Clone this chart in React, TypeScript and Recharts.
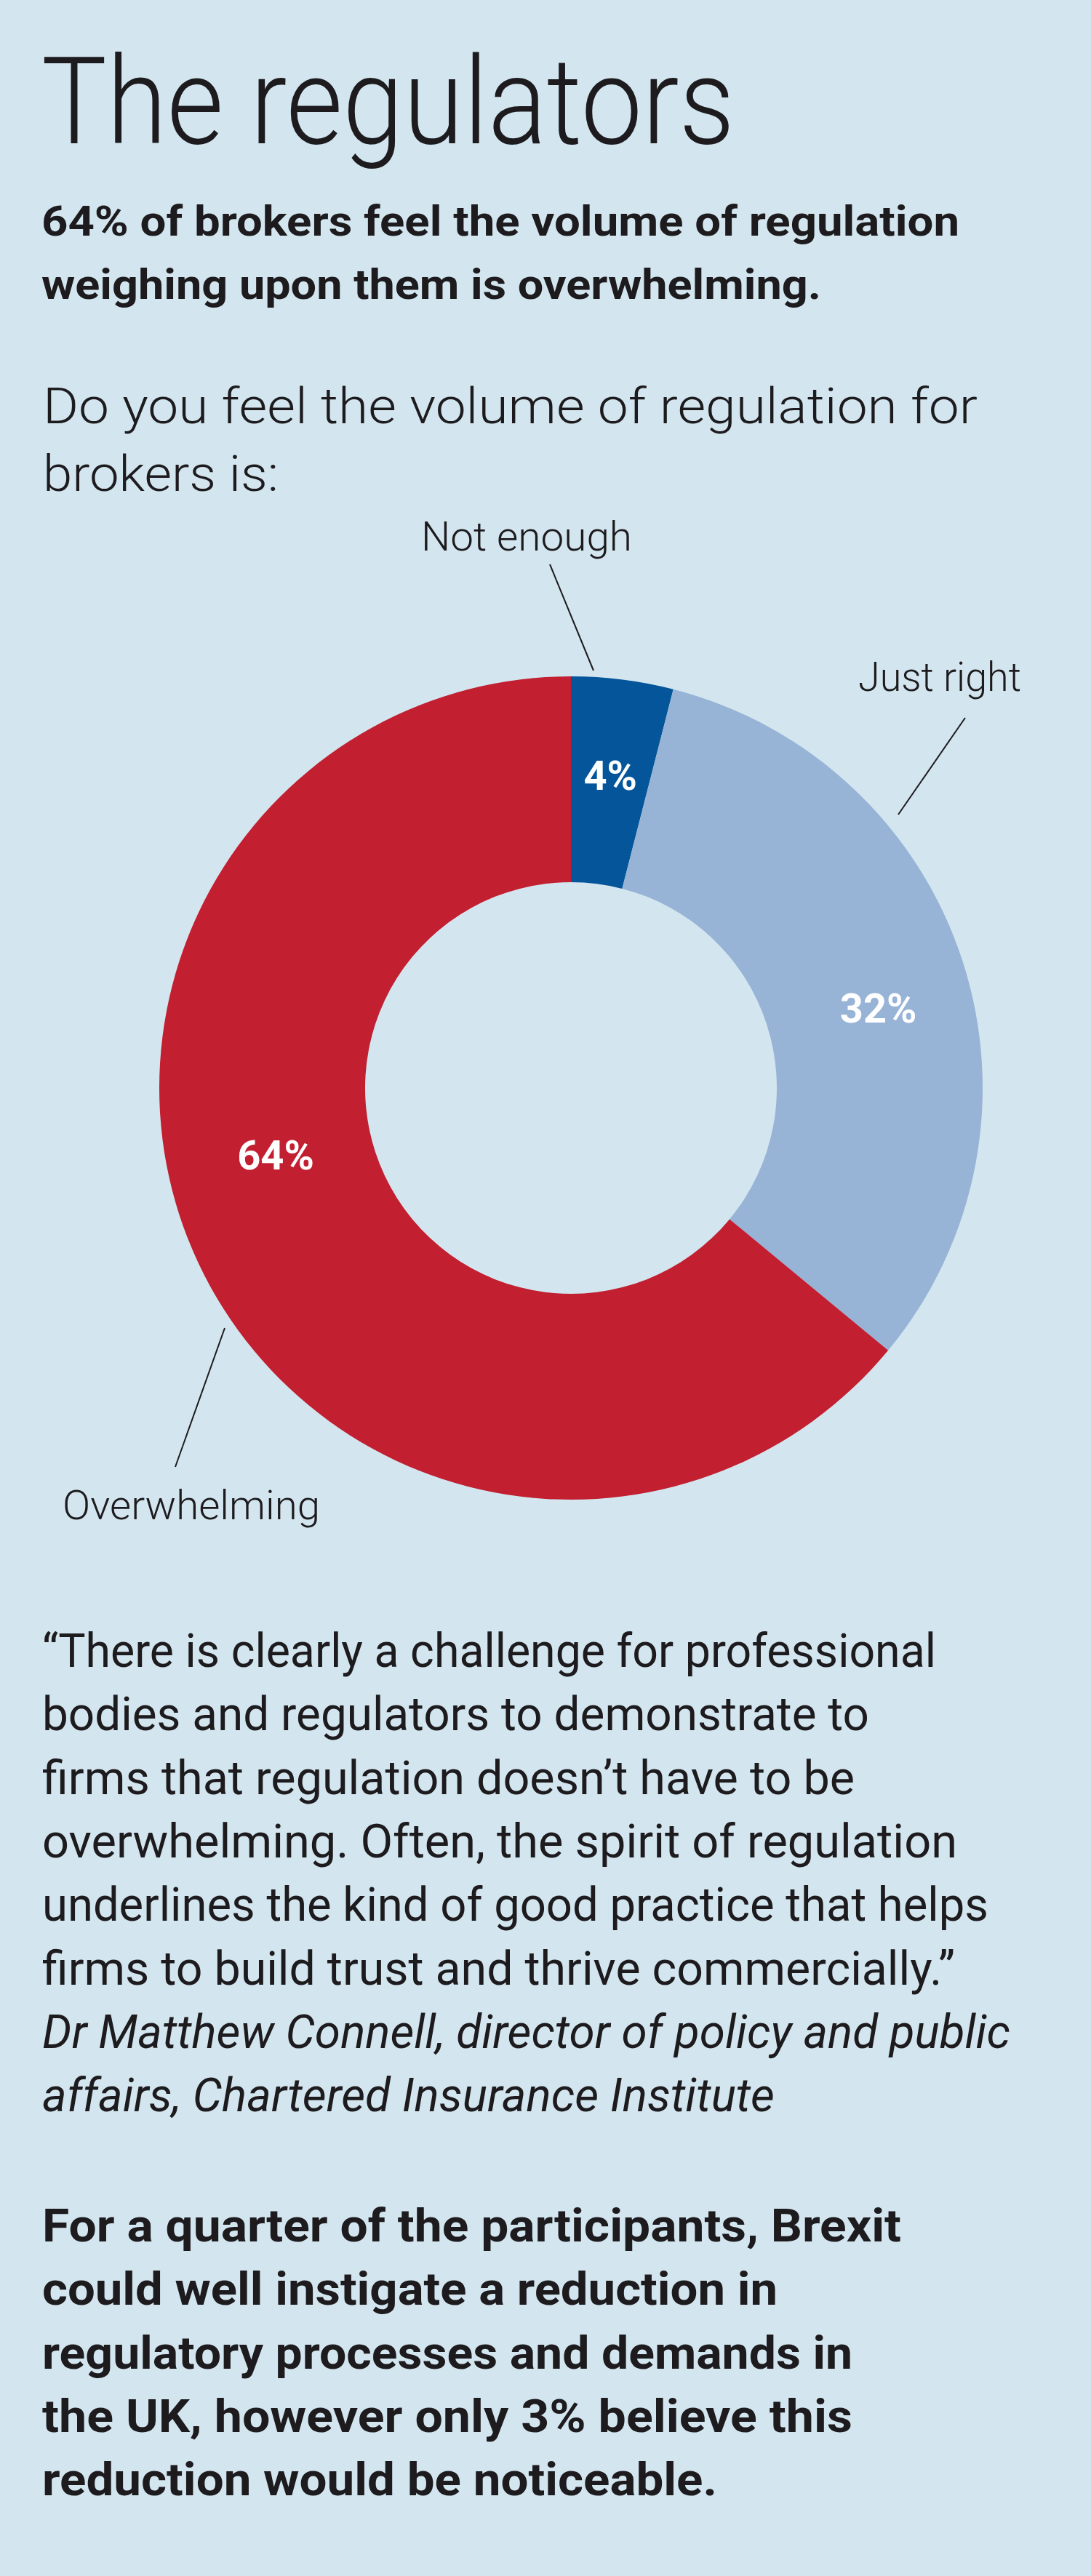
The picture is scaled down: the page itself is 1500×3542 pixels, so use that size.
import { Cell, Pie, PieChart } from "recharts";

const BG = "#d3e6ef";
const INK = "#1d1b1e";

// survey answers, clockwise from 12 o'clock
const CATEGORIES = ["Not enough", "Just right", "Overwhelming"];
const SHARES = [4, 32, 64];
const COLORS = ["#04559a", "#97b3d6", "#c21f30"];

const TITLE = "The regulators";
const SUBTITLE = ["64% of brokers feel the volume of regulation", "weighing upon them is overwhelming."];
const QUESTION = ["Do you feel the volume of regulation for", "brokers is:"];
const QUOTE = [
  "\u201cThere is clearly a challenge for professional",
  "bodies and regulators to demonstrate to",
  "firms that regulation doesn\u2019t have to be",
  "overwhelming. Often, the spirit of regulation",
  "underlines the kind of good practice that helps",
  "firms to build trust and thrive commercially.\u201d",
];
const ATTRIBUTION = ["Dr Matthew Connell, director of policy and public", "affairs, Chartered Insurance Institute"];
const TAKEAWAY = [
  "For a quarter of the participants, Brexit",
  "could well instigate a reduction in",
  "regulatory processes and demands in",
  "the UK, however only 3% believe this",
  "reduction would be noticeable.",
];

const data = CATEGORIES.map((name, i) => ({ name, value: SHARES[i] }));

// layout
const FONT = "Roboto, 'Noto Sans', sans-serif";
const PIE_TOP = 700;
const CX = 780;
const CY = 1491 - PIE_TOP;
const INNER = 283;
const OUTER = 566;
const PCT_NUDGE = [
  { a: 0, r: 8 },
  { a: -3.5, r: 12 },
  { a: -12.3, r: -8 },
];
const CALLOUTS = [
  { tx: -61, ty: -739, w: 290, line: [-29, -720, 31, -574] },
  { tx: 507, ty: -546, w: 224, line: [542, -509, 450, -376] },
  { tx: -522, ty: 593, w: 354, line: [-476, 330, -544, 521] },
];

const RAD = Math.PI / 180;

function SliceLabel(props: any) {
  const { cx, cy, midAngle, innerRadius, outerRadius, index } = props;
  const n = PCT_NUDGE[index];
  const r = (innerRadius + outerRadius) / 2 + n.r;
  const ang = (midAngle + n.a) * RAD;
  const x = cx + r * Math.cos(-ang);
  const y = cy + r * Math.sin(-ang);
  const c = CALLOUTS[index];
  return (
    <g>
      <text
        x={x}
        y={y}
        textAnchor="middle"
        dominantBaseline="central"
        fill="#fff"
        fontFamily={FONT}
        fontWeight={700}
        fontSize={56}
      >
        {SHARES[index]}%
      </text>
      <line
        x1={cx + c.line[0]}
        y1={cy + c.line[1]}
        x2={cx + c.line[2]}
        y2={cy + c.line[3]}
        stroke={INK}
        strokeWidth={2}
      />
      <text
        x={cx + c.tx}
        y={cy + c.ty}
        textAnchor="middle"
        fill={INK}
        fontFamily={FONT}
        fontWeight={300}
        fontSize={56}
        textLength={c.w}
        lengthAdjust="spacingAndGlyphs"
      >
        {CATEGORIES[index]}
      </text>
    </g>
  );
}

type Line = { text: string; x: number; y: number; w: number; size: number; weight: number; italic?: boolean };

const lines: Line[] = [
  { text: TITLE, x: 57, y: 197, w: 953, size: 167, weight: 300 },
  { text: SUBTITLE[0], x: 57, y: 324, w: 1262, size: 57, weight: 700 },
  { text: SUBTITLE[1], x: 57, y: 411, w: 1072, size: 57, weight: 700 },
  { text: QUESTION[0], x: 59, y: 582, w: 1285, size: 69, weight: 300 },
  { text: QUESTION[1], x: 59, y: 675, w: 324, size: 69, weight: 300 },
  ...QUOTE.map((t, i) => ({
    text: t,
    x: 58,
    y: 2292 + i * 87.3,
    w: [1229, 1137, 1117, 1258, 1301, 1255][i],
    size: 65,
    weight: 400,
  })),
  ...ATTRIBUTION.map((t, i) => ({
    text: t,
    x: 58,
    y: 2816 + i * 87.3,
    w: [1331, 1007][i],
    size: 65,
    weight: 400,
    italic: true,
  })),
  ...TAKEAWAY.map((t, i) => ({
    text: t,
    x: 58,
    y: 3082 + i * 87.3,
    w: [1181, 1011, 1114, 1114, 928][i],
    size: 63,
    weight: 700,
  })),
];

export default function App() {
  return (
    <div
      style={{
        position: "absolute",
        left: 0,
        top: 0,
        width: 1500,
        height: 3542,
        background: BG,
        overflow: "hidden",
      }}
    >
      <div style={{ position: "absolute", left: 0, top: PIE_TOP }}>
        <PieChart width={1500} height={1420}>
          <Pie
            data={data}
            dataKey="value"
            nameKey="name"
            cx={CX}
            cy={CY}
            innerRadius={INNER}
            outerRadius={OUTER}
            startAngle={90}
            endAngle={-270}
            stroke="none"
            labelLine={false}
            label={SliceLabel}
            isAnimationActive={false}
          >
            {data.map((d, i) => (
              <Cell key={d.name} fill={COLORS[i]} />
            ))}
          </Pie>
        </PieChart>
      </div>
      <svg
        width={1500}
        height={3542}
        style={{ position: "absolute", left: 0, top: 0, pointerEvents: "none" }}
      >
        {lines.map((l, i) => (
          <text
            key={i}
            x={l.x}
            y={l.y}
            fill={INK}
            fontFamily={FONT}
            fontSize={l.size}
            fontWeight={l.weight}
            fontStyle={l.italic ? "italic" : "normal"}
            textLength={l.w}
            lengthAdjust="spacingAndGlyphs"
          >
            {l.text}
          </text>
        ))}
      </svg>
    </div>
  );
}
